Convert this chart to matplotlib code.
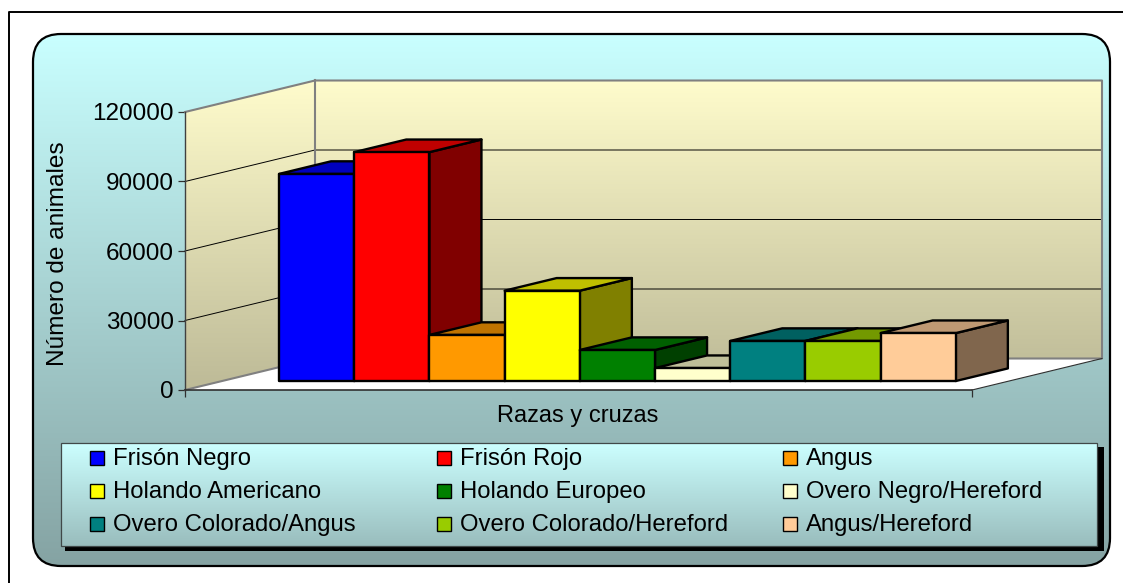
import numpy as np
import matplotlib
matplotlib.use('Agg')
import matplotlib.pyplot as plt
from matplotlib.patches import FancyBboxPatch, Polygon, Rectangle

plt.rcParams['font.family'] = ['Liberation Sans', 'DejaVu Sans']

razas = ['Frisón Negro', 'Frisón Rojo', 'Angus',
         'Holando Americano', 'Holando Europeo', 'Overo Negro/Hereford',
         'Overo Colorado/Angus', 'Overo Colorado/Hereford', 'Angus/Hereford']
animales = [89400, 98800, 19900, 39000, 13400, 5600, 17300, 17300, 20700]
colores = ['#0000FF', '#FF0000', '#FF9900', '#FFFF00', '#008000', '#FFFFCC',
           '#008080', '#99CC00', '#FFCC99']
ticks_y = [0, 30000, 60000, 90000, 120000]

W, H = 1123, 583
fig = plt.figure(figsize=(W / 100, H / 100), dpi=100, facecolor='white')


def box(x0, y0, x1, y1):
    # pixeles de la imagen -> fraccion de figura
    return [x0 / W, 1 - y1 / H, (x1 - x0) / W, (y1 - y0) / H]


def degradado(ax, extent, c0, c1, clip, z=1):
    c0 = np.array(matplotlib.colors.to_rgb(c0))
    c1 = np.array(matplotlib.colors.to_rgb(c1))
    t = np.linspace(0, 1, 256)[:, None, None]
    img = (1 - t) * c0[None, None, :] + t * c1[None, None, :]
    im = ax.imshow(img, extent=extent, aspect='auto', origin='upper', zorder=z)
    im.set_clip_box(fig.bbox)
    im.set_clip_path(clip)


# fondo en pixeles
bg = fig.add_axes([0, 0, 1, 1])
bg.axis('off')
bg.plot([9, 9, W], [H, 12, 12], color='black', lw=1.4, zorder=5)

panel = FancyBboxPatch((33, 34), 1077, 532, boxstyle='round,pad=0,rounding_size=28',
                       facecolor='none', edgecolor='black', lw=1.6, zorder=3)
bg.add_patch(panel)
degradado(bg, (33, 1110, 566, 34), '#C9FFFF', '#85A3A3', panel)

# leyenda
bg.add_patch(Rectangle((65, 447), 1039, 104, facecolor='black', edgecolor='none', zorder=4))
caja = Rectangle((61, 443), 1036, 103, facecolor='none', edgecolor='#404848', lw=0.9, zorder=6)
bg.add_patch(caja)
degradado(bg, (61, 1097, 546, 443), '#CCFFFF', '#99BDBD', caja, z=5)

col_x = [90, 437, 783]
fila_y = [458, 491, 524]
for i, (nombre, color) in enumerate(zip(razas, colores)):
    x = col_x[i % 3]
    y = fila_y[i // 3]
    bg.add_patch(Rectangle((x, y - 7), 14, 14, facecolor=color, edgecolor='black', lw=1.0, zorder=7))
    bg.text(x + 23, y + 1, nombre, fontsize=17.2, va='center', ha='left', zorder=7)

bg.set_xlim(0, W)
bg.set_ylim(H, 0)

# ejes del grafico: plano frontal del cubo 3D
ax = fig.add_axes(box(185, 112, 972, 390))
ax.patch.set_visible(False)
ancho_px = 75.2
xmin = -57 / ancho_px
xmax = xmin + 787 / ancho_px
DX = 130 / ancho_px          # profundidad del cubo, en categorias
DY = 120000 * 31.5 / 278     # profundidad del cubo, en animales
T0, T1 = 0.285, 0.685        # donde van las barras dentro de la profundidad


def p(x, y, t):
    return (x + t * DX, y + t * DY)


ymax = ticks_y[-1]
piso = Polygon([p(xmin, 0, 0), p(xmax, 0, 0), p(xmax, 0, 1), p(xmin, 0, 1)],
               facecolor='white', edgecolor='none', zorder=1, clip_on=False)
ax.add_patch(piso)
pared_izq = Polygon([p(xmin, 0, 0), p(xmin, ymax, 0), p(xmin, ymax, 1), p(xmin, 0, 1)],
                    facecolor='none', edgecolor='none', zorder=1)
pared_fondo = Polygon([p(xmin, 0, 1), p(xmin, ymax, 1), p(xmax, ymax, 1), p(xmax, 0, 1)],
                      facecolor='none', edgecolor='none', zorder=1)
ax.add_patch(pared_izq)
ax.add_patch(pared_fondo)
degradado(ax, (xmin, xmin + DX, 0, ymax + DY), '#FFFCCC', '#BDBA97', pared_izq)
degradado(ax, (xmin + DX, xmax + DX, DY, ymax + DY), '#FFFCCC', '#C2BF9B', pared_fondo)

# lineas de division
for v in ticks_y[1:-1]:
    xs, ys = zip(p(xmin, v, 0), p(xmin, v, 1), p(xmax, v, 1))
    ax.plot(xs, ys, color='black', lw=0.7, zorder=2, clip_on=False)

# bordes de las paredes
xs, ys = zip(p(xmin, ymax, 0), p(xmin, ymax, 1), p(xmax, ymax, 1), p(xmax, 0, 1), p(xmin, 0, 1), p(xmin, 0, 0))
ax.plot(xs, ys, color='#808080', lw=1.5, zorder=2, clip_on=False)
xs, ys = zip(p(xmin, ymax, 1), p(xmin, 0, 1))
ax.plot(xs, ys, color='#808080', lw=1.5, zorder=2, clip_on=False)
xs, ys = zip(p(xmax, 0, 0), p(xmax, 0, 1))
ax.plot(xs, ys, color='#303030', lw=0.8, zorder=2, clip_on=False)


def oscuro(color, f):
    return tuple(c * f for c in matplotlib.colors.to_rgb(color))


# barras de izquierda a derecha, cada una tapa a la anterior
for i, (v, color) in enumerate(zip(animales, colores)):
    z = 3 + i * 0.1
    borde = dict(edgecolor='black', lw=1.7, joinstyle='round', clip_on=False, zorder=z)
    ax.add_patch(Polygon([p(i + 1, 0, T0), p(i + 1, v, T0), p(i + 1, v, T1), p(i + 1, 0, T1)],
                         facecolor=oscuro(color, 0.5), **borde))
    ax.add_patch(Polygon([p(i, v, T0), p(i + 1, v, T0), p(i + 1, v, T1), p(i, v, T1)],
                         facecolor=oscuro(color, 0.75), **borde))
    ax.add_patch(Polygon([p(i, 0, T0), p(i + 1, 0, T0), p(i + 1, v, T0), p(i, v, T0)],
                         facecolor=color, **borde))

ax.set_xlim(xmin, xmax)
ax.set_ylim(0, ymax)
ax.set_yticks(ticks_y)
ax.set_yticklabels([str(v) for v in ticks_y], fontsize=17.5)
ax.set_xticks([xmin, xmax])
ax.set_xticklabels([])
ax.tick_params(axis='both', length=5, width=0.9, color='#303030', pad=3)
for lado in ['top', 'right']:
    ax.spines[lado].set_visible(False)
ax.spines['left'].set_color('#404040')
ax.spines['bottom'].set_color('#303030')
ax.spines['left'].set_linewidth(1)
ax.spines['bottom'].set_linewidth(1.2)
ax.set_xlabel('Razas y cruzas', fontsize=17)
ax.xaxis.set_label_coords(0.4995, -15 / 278, transform=ax.transAxes)
ax.set_ylabel('Número de animales', fontsize=17.6)
ax.yaxis.set_label_coords(-116 / 787, 0.49, transform=ax.transAxes)

fig.savefig('out.png', dpi=100)
